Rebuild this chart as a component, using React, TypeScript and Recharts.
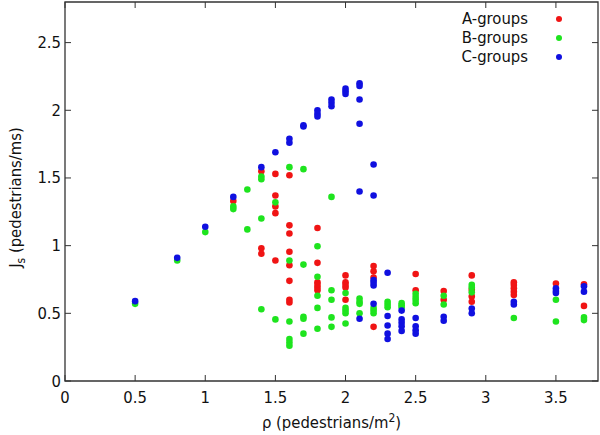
import React from 'react';
import { ScatterChart, Scatter, XAxis, YAxis, ReferenceArea, Legend, Label } from 'recharts';

// tick values on both axes
const xTicks = [0, 0.5, 1, 1.5, 2, 2.5, 3, 3.5];
const yTicks = [0, 0.5, 1, 1.5, 2, 2.5];

// A-groups (red)
const aGroups = [
  { x: 1.2, y: 1.33 },
  { x: 1.4, y: 1.55 }, { x: 1.4, y: 0.98 }, { x: 1.4, y: 0.94 },
  { x: 1.5, y: 1.53 }, { x: 1.5, y: 1.37 }, { x: 1.5, y: 1.29 }, { x: 1.5, y: 1.24 }, { x: 1.5, y: 0.89 },
  { x: 1.6, y: 1.52 }, { x: 1.6, y: 1.15 }, { x: 1.6, y: 1.09 }, { x: 1.6, y: 0.955 }, { x: 1.6, y: 0.855 },
  { x: 1.6, y: 0.74 }, { x: 1.6, y: 0.6 }, { x: 1.6, y: 0.58 },
  { x: 1.8, y: 1.13 }, { x: 1.8, y: 0.873 }, { x: 1.8, y: 0.73 }, { x: 1.8, y: 0.71 }, { x: 1.8, y: 0.69 }, { x: 1.8, y: 0.67 },
  { x: 2.0, y: 0.78 }, { x: 2.0, y: 0.73 }, { x: 2.0, y: 0.71 }, { x: 2.0, y: 0.69 }, { x: 2.0, y: 0.6 },
  { x: 2.2, y: 0.85 }, { x: 2.2, y: 0.81 }, { x: 2.2, y: 0.765 }, { x: 2.2, y: 0.4 },
  { x: 2.5, y: 0.79 }, { x: 2.5, y: 0.67 },
  { x: 2.7, y: 0.665 }, { x: 2.7, y: 0.6 },
  { x: 2.9, y: 0.78 }, { x: 2.9, y: 0.675 }, { x: 2.9, y: 0.625 }, { x: 2.9, y: 0.585 },
  { x: 3.2, y: 0.73 }, { x: 3.2, y: 0.71 }, { x: 3.2, y: 0.685 }, { x: 3.2, y: 0.66 }, { x: 3.2, y: 0.635 },
  { x: 3.5, y: 0.72 },
  { x: 3.7, y: 0.715 }, { x: 3.7, y: 0.555 },
];

// B-groups (green)
const bGroups = [
  { x: 0.5, y: 0.57 },
  { x: 0.8, y: 0.89 },
  { x: 1.0, y: 1.1 },
  { x: 1.2, y: 1.29 }, { x: 1.2, y: 1.27 },
  { x: 1.3, y: 1.415 }, { x: 1.3, y: 1.12 },
  { x: 1.4, y: 1.51 }, { x: 1.4, y: 1.49 }, { x: 1.4, y: 1.2 }, { x: 1.4, y: 0.53 },
  { x: 1.5, y: 1.32 }, { x: 1.5, y: 0.455 },
  { x: 1.6, y: 1.58 }, { x: 1.6, y: 0.89 }, { x: 1.6, y: 0.44 }, { x: 1.6, y: 0.31 }, { x: 1.6, y: 0.285 }, { x: 1.6, y: 0.26 },
  { x: 1.7, y: 1.565 }, { x: 1.7, y: 0.86 }, { x: 1.7, y: 0.475 }, { x: 1.7, y: 0.46 }, { x: 1.7, y: 0.35 },
  { x: 1.8, y: 0.996 }, { x: 1.8, y: 0.77 }, { x: 1.8, y: 0.63 }, { x: 1.8, y: 0.54 }, { x: 1.8, y: 0.386 },
  { x: 1.9, y: 1.36 }, { x: 1.9, y: 0.67 }, { x: 1.9, y: 0.6 }, { x: 1.9, y: 0.47 }, { x: 1.9, y: 0.4 },
  { x: 2.0, y: 0.65 }, { x: 2.0, y: 0.54 }, { x: 2.0, y: 0.52 }, { x: 2.0, y: 0.5 }, { x: 2.0, y: 0.425 },
  { x: 2.1, y: 0.61 }, { x: 2.1, y: 0.585 }, { x: 2.1, y: 0.57 }, { x: 2.1, y: 0.5 },
  { x: 2.2, y: 0.54 }, { x: 2.2, y: 0.52 }, { x: 2.2, y: 0.5 },
  { x: 2.3, y: 0.585 }, { x: 2.3, y: 0.565 }, { x: 2.3, y: 0.545 },
  { x: 2.4, y: 0.575 }, { x: 2.4, y: 0.56 }, { x: 2.4, y: 0.545 },
  { x: 2.5, y: 0.645 }, { x: 2.5, y: 0.62 }, { x: 2.5, y: 0.6 }, { x: 2.5, y: 0.575 },
  { x: 2.7, y: 0.63 }, { x: 2.7, y: 0.565 },
  { x: 2.9, y: 0.71 }, { x: 2.9, y: 0.69 }, { x: 2.9, y: 0.655 },
  { x: 3.2, y: 0.465 },
  { x: 3.5, y: 0.6 }, { x: 3.5, y: 0.44 },
  { x: 3.7, y: 0.47 }, { x: 3.7, y: 0.45 },
];

// C-groups (blue)
const cGroups = [
  { x: 0.5, y: 0.59 },
  { x: 0.8, y: 0.91 },
  { x: 1.0, y: 1.14 },
  { x: 1.2, y: 1.36 },
  { x: 1.4, y: 1.58 },
  { x: 1.5, y: 1.69 },
  { x: 1.6, y: 1.79 }, { x: 1.6, y: 1.76 },
  { x: 1.7, y: 1.89 }, { x: 1.7, y: 1.88 },
  { x: 1.8, y: 2.0 }, { x: 1.8, y: 1.975 }, { x: 1.8, y: 1.955 },
  { x: 1.9, y: 2.08 }, { x: 1.9, y: 2.055 }, { x: 1.9, y: 2.03 },
  { x: 2.0, y: 2.16 }, { x: 2.0, y: 2.14 }, { x: 2.0, y: 2.12 },
  { x: 2.1, y: 2.2 }, { x: 2.1, y: 2.18 }, { x: 2.1, y: 2.08 }, { x: 2.1, y: 1.9 }, { x: 2.1, y: 1.4 }, { x: 2.1, y: 0.46 },
  { x: 2.2, y: 1.6 }, { x: 2.2, y: 1.37 }, { x: 2.2, y: 0.745 }, { x: 2.2, y: 0.725 }, { x: 2.2, y: 0.705 }, { x: 2.2, y: 0.57 },
  { x: 2.3, y: 0.8 }, { x: 2.3, y: 0.48 }, { x: 2.3, y: 0.41 }, { x: 2.3, y: 0.35 }, { x: 2.3, y: 0.31 },
  { x: 2.4, y: 0.52 }, { x: 2.4, y: 0.455 }, { x: 2.4, y: 0.43 }, { x: 2.4, y: 0.405 }, { x: 2.4, y: 0.37 },
  { x: 2.5, y: 0.465 }, { x: 2.5, y: 0.405 }, { x: 2.5, y: 0.375 }, { x: 2.5, y: 0.35 },
  { x: 2.7, y: 0.475 }, { x: 2.7, y: 0.445 },
  { x: 2.9, y: 0.535 }, { x: 2.9, y: 0.5 },
  { x: 3.2, y: 0.585 }, { x: 3.2, y: 0.565 },
  { x: 3.5, y: 0.685 }, { x: 3.5, y: 0.665 }, { x: 3.5, y: 0.65 },
  { x: 3.7, y: 0.7 }, { x: 3.7, y: 0.66 },
];

const FONT = "'DejaVu Sans Condensed', 'DejaVu Sans', sans-serif";
const FRAME = '#333';
const TEXT = '#111';
const FONT_SIZE = 16.5;
const PLOT_TOP = 2;
const PLOT_RIGHT = 598;
const TICK_LEN = 6;

const colors: Record<string, string> = {
  'A-groups': '#f01414',
  'B-groups': '#1ee41e',
  'C-groups': '#1010e0',
};

// gnuplot style: ticks point inward and are mirrored on the top / right side
const BottomTick = (props: any) => {
  const { x, y, payload } = props;
  return (
    <g>
      <line x1={x} y1={y} x2={x} y2={y - TICK_LEN} stroke={FRAME} />
      <line x1={x} y1={PLOT_TOP} x2={x} y2={PLOT_TOP + TICK_LEN} stroke={FRAME} />
      <text x={x} y={y + 16} textAnchor="middle" dominantBaseline="central" fontFamily={FONT} fontSize={FONT_SIZE} fill={TEXT}>
        {payload.value}
      </text>
    </g>
  );
};

const LeftTick = (props: any) => {
  const { x, y, payload } = props;
  return (
    <g>
      <line x1={x} y1={y} x2={x + TICK_LEN} y2={y} stroke={FRAME} />
      <line x1={PLOT_RIGHT - TICK_LEN} y1={y} x2={PLOT_RIGHT} y2={y} stroke={FRAME} />
      <text x={x - 4} y={y} textAnchor="end" dominantBaseline="central" fontFamily={FONT} fontSize={FONT_SIZE} fill={TEXT}>
        {payload.value}
      </text>
    </g>
  );
};

const XTitle = (props: any) => {
  const { viewBox } = props;
  const cx = viewBox.x + viewBox.width / 2;
  return (
    <text x={cx} y={viewBox.y + 47} textAnchor="middle" fontFamily={FONT} fontSize={FONT_SIZE} fill={TEXT}>
      ρ (pedestrians/m
      <tspan dy={-6} fontSize={12}>2</tspan>
      <tspan dy={6}>)</tspan>
    </text>
  );
};

const YTitle = (props: any) => {
  const { viewBox } = props;
  const cy = viewBox.y + viewBox.height / 2 + 6;
  const cx = 21;
  return (
    <text x={cx} y={cy} transform={`rotate(-90, ${cx}, ${cy})`} textAnchor="middle" fontFamily={FONT} fontSize={FONT_SIZE} fill={TEXT}>
      J
      <tspan dy={4} fontSize={12}>s</tspan>
      <tspan dy={-4}> (pedestrians/ms)</tspan>
    </text>
  );
};

const renderLegend = (props: any) => (
  <div>
    {props.payload.map((p: any) => (
      <div
        key={p.value}
        style={{ display: 'flex', alignItems: 'center', justifyContent: 'flex-end', height: 19 }}
      >
        <span style={{ fontFamily: FONT, fontSize: FONT_SIZE, color: TEXT }}>{p.value}</span>
        <span
          style={{
            display: 'inline-block',
            width: 6,
            height: 6,
            borderRadius: '50%',
            background: colors[p.value] || p.color,
            marginLeft: 28,
          }}
        />
      </div>
    ))}
  </div>
);

const dot = (props: any) => <circle cx={props.cx} cy={props.cy} r={3.3} fill={props.fill} />;

export default function App() {
  return (
    <div style={{ position: 'absolute', left: 0, top: 0, background: '#fff' }}>
      <ScatterChart width={600} height={435} margin={{ top: PLOT_TOP, right: 600 - PLOT_RIGHT, bottom: 0, left: 0 }}>
        <XAxis
          type="number"
          dataKey="x"
          domain={[0, 3.8]}
          ticks={xTicks}
          height={54}
          axisLine={false}
          tickLine={false}
          tickSize={0}
          tickMargin={0}
          tick={<BottomTick />}
          interval={0}
        >
          <Label content={<XTitle />} />
        </XAxis>
        <YAxis
          type="number"
          dataKey="y"
          domain={[0, 2.8]}
          ticks={yTicks}
          width={65}
          axisLine={false}
          tickLine={false}
          tickSize={0}
          tickMargin={0}
          tick={<LeftTick />}
          interval={0}
        >
          <Label content={<YTitle />} />
        </YAxis>
        <ReferenceArea x1={0} x2={3.8} y1={0} y2={2.8} fill="none" stroke={FRAME} strokeWidth={1.3} ifOverflow="visible" />
        <Legend
          layout="vertical"
          align="center"
          verticalAlign="middle"
          content={renderLegend}
          wrapperStyle={{ top: 9, left: 400, width: 162 }}
        />
        <Scatter name="A-groups" data={aGroups} fill={colors['A-groups']} shape={dot} isAnimationActive={false} />
        <Scatter name="B-groups" data={bGroups} fill={colors['B-groups']} shape={dot} isAnimationActive={false} />
        <Scatter name="C-groups" data={cGroups} fill={colors['C-groups']} shape={dot} isAnimationActive={false} />
      </ScatterChart>
    </div>
  );
}
